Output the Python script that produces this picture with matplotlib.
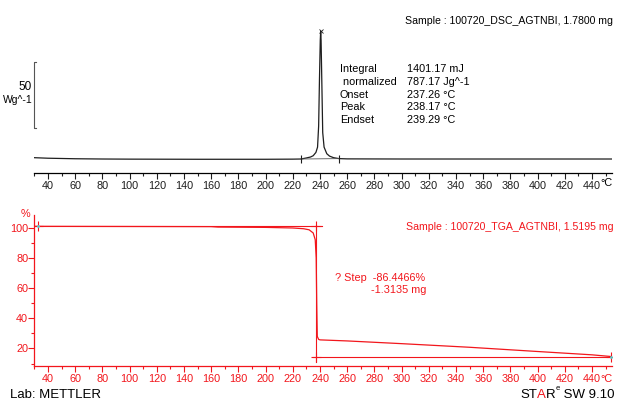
"""
DSC / TGA overlay for the AGTNBI sample, redrawn in the STARe style.
"""
import matplotlib
matplotlib.use("Agg")
import matplotlib.pyplot as plt
from matplotlib.ticker import MultipleLocator

plt.rcParams['font.family'] = ['Liberation Sans', 'DejaVu Sans']

W, H = 617, 401
RED = '#f2161c'
DARK = '#1e1e1e'

# --- DSC trace (temperature in degC, heat flow in W/g)
dsc_temp = [30, 40, 60, 80, 100, 150, 200, 220, 226, 230, 233, 235, 237,
            238.2, 239, 239.6, 240.2, 240.5, 240.8, 241.4, 242, 243, 245,
            247, 250, 254, 260, 300, 400, 455]
dsc_flow = [1.0, 0.6, 0.2, 0.0, -0.1, -0.2, -0.2, -0.1, 0.0, 0.8, 1.5, 2.5,
            5.0, 9.0, 25, 60, 90, 97, 90, 55, 20, 9.0, 4.0, 2.2, 1.0, 0.3,
            0.1, 0.0, 0.0, 0.0]
dsc_limits = [226, 254]          # integration limits
dsc_peak = (240.5, 97)

# --- TGA trace (temperature in degC, mass in %)
tga_temp = [30, 100, 160, 165, 200, 220, 228, 232, 235, 236.5, 237.2, 237.6,
            238, 239, 240, 260, 300, 350, 400, 440, 455]
tga_mass = [100.9, 100.8, 100.7, 100.4, 100.2, 99.8, 99.3, 98.6, 96.5, 92.0,
            80.0, 50.0, 28.0, 26.0, 25.7, 25.0, 23.2, 20.8, 18.0, 15.8, 14.6]
tga_upper = 100.9                # step evaluation levels
tga_lower = 14.45
tga_step_t = 237.1

dsc_table = [("Integral", "1401.17 mJ"),
             (" normalized", "787.17 Jg^-1"),
             ("Onset", "237.26 °C"),
             ("Peak", "238.17 °C"),
             ("Endset", "239.29 °C")]


def box(x0, y0, x1, y1):
    """pixel box (top-left origin) -> figure fractions"""
    return [x0 / W, 1 - y1 / H, (x1 - x0) / W, (y1 - y0) / H]


def fpos(x, y):
    return x / W, 1 - y / H


fig = plt.figure(figsize=(W / 100, H / 100), dpi=100)

# ---------------- DSC panel ----------------
ax1 = fig.add_axes(box(34.4, 10, 612.4, 173))
ax1.plot(dsc_temp, dsc_flow, color=DARK, lw=0.9)
ax1.plot(dsc_limits, [0, 0.3], color='#555555', lw=0.6)
ax1.plot(dsc_limits, [0, 0.3], ls='none', marker='|', ms=6, mew=0.8,
         color=DARK)
ax1.plot(*dsc_peak, marker='x', ms=3, mew=0.6, color=DARK)
ax1.set_xlim(30, 455)
ax1.set_ylim(-10.6, 112.9)
for s in ('top', 'right', 'left'):
    ax1.spines[s].set_visible(False)
ax1.spines['bottom'].set_linewidth(0.9)
ax1.set_yticks([])
ax1.xaxis.set_major_locator(MultipleLocator(20))
ax1.xaxis.set_minor_locator(MultipleLocator(10))
ax1.tick_params(axis='x', which='major', length=4, width=0.8, pad=1.5,
                labelsize=7.8, colors=DARK)
ax1.tick_params(axis='x', which='minor', length=2.5, width=0.8, colors=DARK)

# 50 W/g scale bar
ax1.plot([31.5, 30, 30, 31.5], [73.5, 73.5, 23.5, 23.5], color='#555555',
         lw=0.8, clip_on=False)
fig.text(*fpos(32, 87), "50", ha='right', va='center', fontsize=8.5)
fig.text(*fpos(32.5, 100), "Wg^-1", ha='right', va='center', fontsize=7.5)

fig.text(*fpos(613, 21), "Sample : 100720_DSC_AGTNBI, 1.7800 mg",
         ha='right', va='center', fontsize=7.6)
for i, (name, val) in enumerate(dsc_table):
    y = 69 + i * 12.75
    fig.text(*fpos(340, y), name, ha='left', va='center', fontsize=7.8)
    fig.text(*fpos(407, y), val, ha='left', va='center', fontsize=7.8)
fig.text(*fpos(600.5, 183.5), "°C", ha='left', va='center', fontsize=7.8)

# ---------------- TGA panel ----------------
ax2 = fig.add_axes(box(34.4, 215, 612.4, 366))
ax2.plot(tga_temp, tga_mass, color=RED, lw=0.9)
ax2.plot([30, 241.3], [tga_upper, tga_upper], color=RED, lw=0.8)
ax2.plot([234.9, 455], [tga_lower, tga_lower], color=RED, lw=0.8)
ax2.plot([tga_step_t, tga_step_t], [101.8, 11.0], color=RED, lw=0.8)
ax2.plot([33, tga_step_t, tga_step_t, 454], [tga_upper, tga_upper,
         tga_lower, tga_lower], ls='none', marker='+', ms=7, mew=0.8,
         color=RED)
ax2.plot([33, 454], [tga_upper, tga_lower], ls='none', marker='.', ms=2,
         color='#55c8c8')
ax2.set_xlim(30, 455)
ax2.set_ylim(8.4, 108.4)
for s in ('top', 'right'):
    ax2.spines[s].set_visible(False)
for s in ('left', 'bottom'):
    ax2.spines[s].set_color(RED)
    ax2.spines[s].set_linewidth(0.9)
ax2.xaxis.set_major_locator(MultipleLocator(20))
ax2.xaxis.set_minor_locator(MultipleLocator(10))
ax2.yaxis.set_major_locator(MultipleLocator(20))
ax2.yaxis.set_minor_locator(MultipleLocator(10))
ax2.tick_params(which='major', length=4, width=0.8, pad=1.5,
                labelsize=7.8, colors=RED)
ax2.tick_params(which='minor', length=2.5, width=0.8, colors=RED)
ax2.tick_params(axis='y', pad=0.5)

fig.text(*fpos(25, 214), "%", ha='center', va='center', fontsize=7.8,
         color=RED)
fig.text(*fpos(600.5, 378.5), "°C", ha='left', va='center', fontsize=7.8,
         color=RED)
fig.text(*fpos(613, 227), "Sample : 100720_TGA_AGTNBI, 1.5195 mg",
         ha='right', va='center', fontsize=7.6, color=RED)
fig.text(*fpos(335, 278), "? Step  -86.4466%", ha='left', va='center',
         fontsize=7.8, color=RED)
fig.text(*fpos(371, 290), "-1.3135 mg", ha='left', va='center',
         fontsize=7.8, color=RED)

# footer
fig.text(*fpos(10, 395), "Lab: METTLER", ha='left', va='center',
         fontsize=9.5)

# "STAR^e SW 9.10", laid out piece by piece from measured widths
renderer = fig.canvas.get_renderer()
footer = [("ST", 'black', 9.5, 395), ("A", RED, 9.5, 395),
          ("R", 'black', 9.5, 395), ("e", 'black', 5.5, 389),
          (" SW 9.10", 'black', 9.5, 395)]
x = 520
for part, col, size, y in footer:
    t = fig.text(*fpos(x, y), part, ha='left', va='center', fontsize=size,
                 color=col)
    x += t.get_window_extent(renderer).width + (0.5 if part == "R" else 0)

fig.savefig("out.png", dpi=100)
